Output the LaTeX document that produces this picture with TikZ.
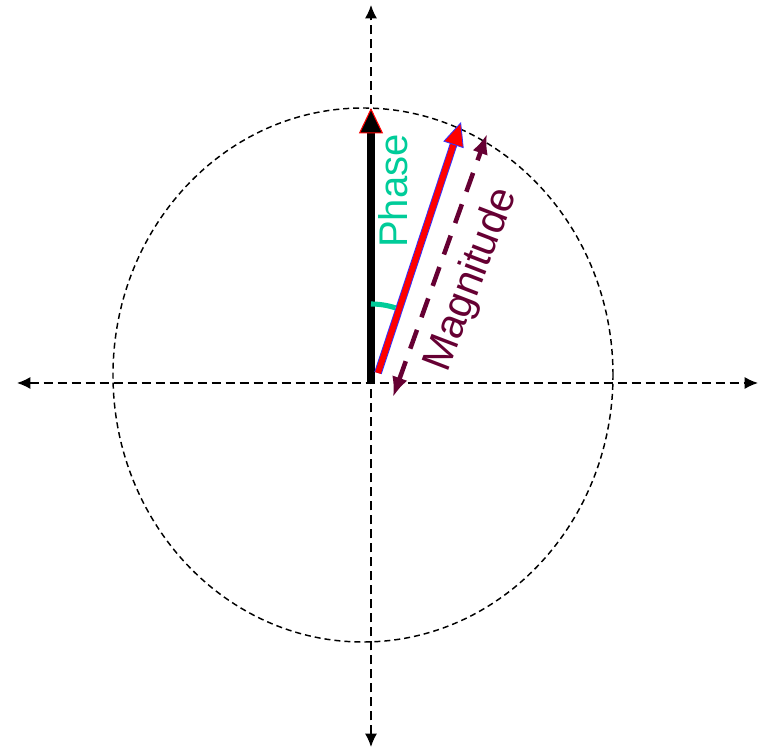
\documentclass[tikz,border=0pt]{standalone}
\usepackage{fontspec}
\setmainfont{Liberation Sans}
\usetikzlibrary{arrows.meta}
\definecolor{ph-green}{HTML}{00CC99}
\definecolor{ph-mag}{HTML}{660033}
\definecolor{ph-blue}{HTML}{3333FF}

\begin{document}
\begin{tikzpicture}[
    x=0.75pt, y=0.75pt,
    axis/.style={{Latex[length=10pt,width=9pt]}-{Latex[length=10pt,width=9pt]}, line width=1.1pt, dash pattern=on 7pt off 3.5pt},
    ring/.style={line width=1.1pt, dash pattern=on 4.5pt off 3pt},
    magline/.style={{Latex[length=15pt,width=12pt]}-{Latex[length=15pt,width=12pt]}, ph-mag, line width=3.4pt, dash pattern=on 15pt off 10pt},
    lbl/.style={inner sep=0pt}
]

\useasboundingbox (-371,-366) rectangle (389,383);

% ── Eixos e círculo ───────────────────────────────────────────
\coordinate (O) at (0,0);
\coordinate (xl) at (-354,0);
\coordinate (xr) at (387,0);
\coordinate (yt) at (0,378);
\coordinate (yb) at (0,-364);

\draw[axis] (xl) -- (xr);
\draw[axis] (yb) -- (yt);
\draw[ring] (-8,8) ellipse[x radius=250, y radius=267];

% ── Vetor de referência (preto) ───────────────────────────────
\coordinate (bt) at (0,275);
\draw[line width=6.4pt, -{Triangle[length=19pt,width=18pt,line width=0.8pt,color=red,fill=black]}] (O) -- (bt);

% ── Vetor girado (vermelho) ───────────────────────────────────
\coordinate (rs) at (7,10);
\coordinate (rt) at (90,261);
\draw[ph-blue, line width=5.8pt, shorten >=14pt] (rs) -- (rt);
\draw[red, line width=4.4pt, -{Triangle[length=18pt,width=16pt,line width=0.6pt,color=ph-blue,fill=red]}] (rs) -- (rt);

% ── Magnitude ─────────────────────────────────────────────────
\coordinate (ms) at (22,-14);
\coordinate (mt) at (116,249);
\draw[magline] (ms) -- (mt);
\node[lbl, ph-mag, rotate=69, font=\fontsize{31}{36}\selectfont] (maglbl) at (101,103) {Magnitude};

% ── Fase ──────────────────────────────────────────────────────
\draw[ph-green, line width=3.8pt] ([shift={(90:79)}]O) arc[start angle=90, end angle=72, radius=79];
\node[lbl, ph-green, rotate=90, font=\fontsize{30}{36}\selectfont] (phaselbl) at (22,192) {Phase};

\end{tikzpicture}
\end{document}
